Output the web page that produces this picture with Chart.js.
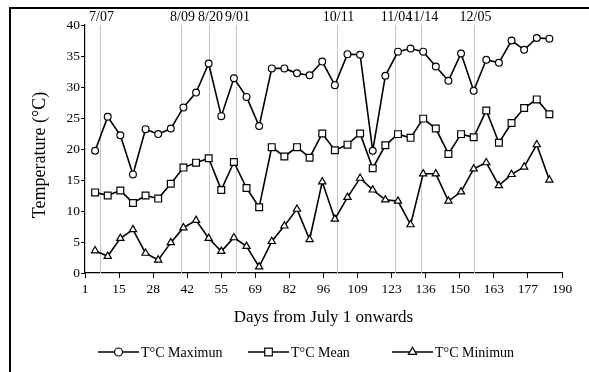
<!DOCTYPE html>
<html>
<head>
<meta charset="utf-8">
<script src="https://cdn.jsdelivr.net/npm/chart.js@4/dist/chart.umd.min.js"></script>
<style>
  html, body { margin: 0; padding: 0; background: #fff; }
  #wrap { position: relative; width: 589px; height: 372px; }
</style>
</head>
<body>
<div id="wrap"><canvas id="c" width="589" height="372"></canvas></div>
<script>
// day of each reading (every 5 days from July 1)
const days = [5, 10, 15, 20, 25, 30, 35, 40, 45, 50, 55, 60, 65, 70, 75, 80, 85, 90, 95,
  100, 105, 110, 115, 120, 125, 130, 135, 140, 145, 150, 155, 160, 165, 170, 175, 180, 185];

const tMax = [19.7, 25.2, 22.2, 15.9, 23.2, 22.4, 23.3, 26.7, 29.1, 33.8, 25.3, 31.4, 28.4,
  23.7, 33.0, 33.0, 32.2, 31.9, 34.1, 30.3, 35.3, 35.2, 19.7, 31.8, 35.7, 36.2, 35.7, 33.3,
  31.0, 35.4, 29.4, 34.4, 33.9, 37.5, 36.0, 37.9, 37.8];

const tMean = [13.0, 12.5, 13.3, 11.3, 12.5, 12.0, 14.4, 17.0, 17.8, 18.5, 13.4, 17.9, 13.7,
  10.6, 20.3, 18.8, 20.3, 18.6, 22.5, 19.8, 20.7, 22.5, 16.9, 20.6, 22.4, 21.8, 24.9, 23.3,
  19.2, 22.4, 21.9, 26.2, 21.0, 24.2, 26.6, 28.0, 25.6];

const tMin = [3.6, 2.7, 5.6, 7.0, 3.2, 2.1, 4.9, 7.3, 8.5, 5.6, 3.5, 5.7, 4.3, 1.0, 5.1, 7.6,
  10.3, 5.4, 14.7, 8.7, 12.2, 15.3, 13.4, 11.8, 11.6, 7.8, 16.0, 16.0, 11.6, 13.1, 16.8, 17.8,
  14.1, 15.9, 17.1, 20.7, 15.0];

// marked dates (vertical reference lines)
const markDays = [7, 39, 50, 61, 101, 124, 134, 155];
const markLabels = ['7/07', '8/09', '8/20', '9/01', '10/11', '11/04', '11/14', '12/05'];

const seriesNames = ['T°C Maximun', 'T°C Mean', 'T°C Minimun'];
const yTitle = 'Temperature (°C)';
const xTitle = 'Days from July 1 onwards';

const FONT = "'Liberation Serif', 'Times New Roman', serif";
Chart.defaults.font.family = FONT;
Chart.defaults.color = '#000';

const toPoints = (vals) => vals.map((v, i) => ({ x: days[i], y: v }));

const styles = ['circle', 'rect', 'triangle'];
const radii = [3.4, 4.8, 4.2];

const datasets = [tMax, tMean, tMin].map((vals, i) => ({
  label: seriesNames[i],
  data: toPoints(vals),
  borderColor: '#000',
  borderWidth: 1.6,
  pointStyle: styles[i],
  pointRadius: radii[i],
  pointBackgroundColor: '#fff',
  pointBorderColor: '#000',
  pointBorderWidth: 1.2,
  tension: 0,
  fill: false
}));

// draws one marker the way the line dataset draws it
const drawMarker = (ctx, style, r, x, y) => {
  ctx.beginPath();
  if (style == 'circle') {
    ctx.arc(x, y, r, 0, Math.PI * 2);
  } else if (style == 'rect') {
    const s = r * Math.SQRT1_2;
    ctx.rect(x - s, y - s, 2 * s, 2 * s);
  } else {
    for (let k = 0; k < 3; k++) {
      const a = k * Math.PI * 2 / 3;
      const px = x + Math.sin(a) * r;
      const py = y - Math.cos(a) * r;
      if (k == 0) ctx.moveTo(px, py); else ctx.lineTo(px, py);
    }
    ctx.closePath();
  }
  ctx.fill();
  ctx.stroke();
};

const frame = {
  id: 'frame',
  beforeDraw: (chart) => {
    const ctx = chart.ctx;
    ctx.save();
    ctx.fillStyle = '#fff';
    ctx.fillRect(0, 0, chart.width, chart.height);
    ctx.restore();
  },
  afterDraw: (chart) => {
    const ctx = chart.ctx;
    ctx.save();
    ctx.fillStyle = '#000';
    ctx.fillRect(9, 7, chart.width - 9, 2);
    ctx.fillRect(9, 7, 2, chart.height - 7);
    // y axis title, sits a little below the middle of the axis like the original
    ctx.font = '18px ' + FONT;
    ctx.textAlign = 'center';
    ctx.textBaseline = 'middle';
    ctx.translate(40, 155);
    ctx.rotate(-Math.PI / 2);
    ctx.fillText(yTitle, 0, 0);
    ctx.restore();
  }
};

// legend row under the axis title: line - marker - line, then the name
const lineLegend = {
  id: 'lineLegend',
  afterDraw: (chart) => {
    const ctx = chart.ctx;
    const starts = [98, 248, 392];
    const y = 352;
    ctx.save();
    ctx.font = '14px ' + FONT;
    ctx.textBaseline = 'middle';
    chart.data.datasets.forEach((ds, i) => {
      const x0 = starts[i];
      ctx.strokeStyle = ds.borderColor;
      ctx.lineWidth = ds.borderWidth;
      ctx.beginPath();
      ctx.moveTo(x0, y);
      ctx.lineTo(x0 + 41, y);
      ctx.stroke();
      ctx.fillStyle = ds.pointBackgroundColor;
      ctx.lineWidth = ds.pointBorderWidth;
      drawMarker(ctx, ds.pointStyle, ds.pointRadius + 0.6, x0 + 20.5, y);
      ctx.fillStyle = '#000';
      ctx.fillText(ds.label, x0 + 43, y + 1);
    });
    ctx.restore();
  }
};

const markLines = {
  id: 'markLines',
  beforeDatasetsDraw: (chart) => {
    const ctx = chart.ctx;
    const xs = chart.scales.x;
    const area = chart.chartArea;
    ctx.save();
    ctx.strokeStyle = '#c4c4c4';
    ctx.lineWidth = 1;
    ctx.fillStyle = '#000';
    ctx.font = '14px ' + FONT;
    ctx.textAlign = 'center';
    ctx.textBaseline = 'middle';
    markDays.forEach((d, i) => {
      const px = Math.round(xs.getPixelForValue(d)) + 0.5;
      ctx.beginPath();
      ctx.moveTo(px, area.top);
      ctx.lineTo(px, area.bottom);
      ctx.stroke();
      ctx.fillText(markLabels[i], px + 1, 17);
    });
    ctx.restore();
  }
};

new Chart(document.getElementById('c'), {
  type: 'line',
  data: { datasets: datasets },
  options: {
    responsive: false,
    animation: false,
    layout: { padding: { left: 26, right: 27, top: 25, bottom: 37 } },
    plugins: {
      legend: { display: false },
      tooltip: { enabled: false }
    },
    scales: {
      x: {
        type: 'linear',
        min: 1,
        max: 190,
        afterFit: (s) => { s.height = 62; },
        ticks: {
          stepSize: 13.5,
          autoSkip: false,
          maxRotation: 0,
          padding: 3,
          font: { size: 13.5 },
          callback: (v) => Math.round(v)
        },
        grid: { drawOnChartArea: false, drawTicks: true, tickLength: 5, color: '#000' },
        border: { display: true, color: '#000', width: 1.2 },
        title: {
          display: true,
          text: xTitle,
          font: { size: 17 },
          padding: { top: 4, bottom: 7 }
        }
      },
      y: {
        min: 0,
        max: 40,
        afterFit: (s) => { s.width = 59; },
        ticks: { stepSize: 5, padding: 1, font: { size: 13.5 } },
        grid: { drawOnChartArea: false, drawTicks: true, tickLength: 4, color: '#000' },
        border: { display: true, color: '#000', width: 1.2 },
        title: { display: false }
      }
    }
  },
  plugins: [frame, markLines, lineLegend]
});
</script>
</body>
</html>
